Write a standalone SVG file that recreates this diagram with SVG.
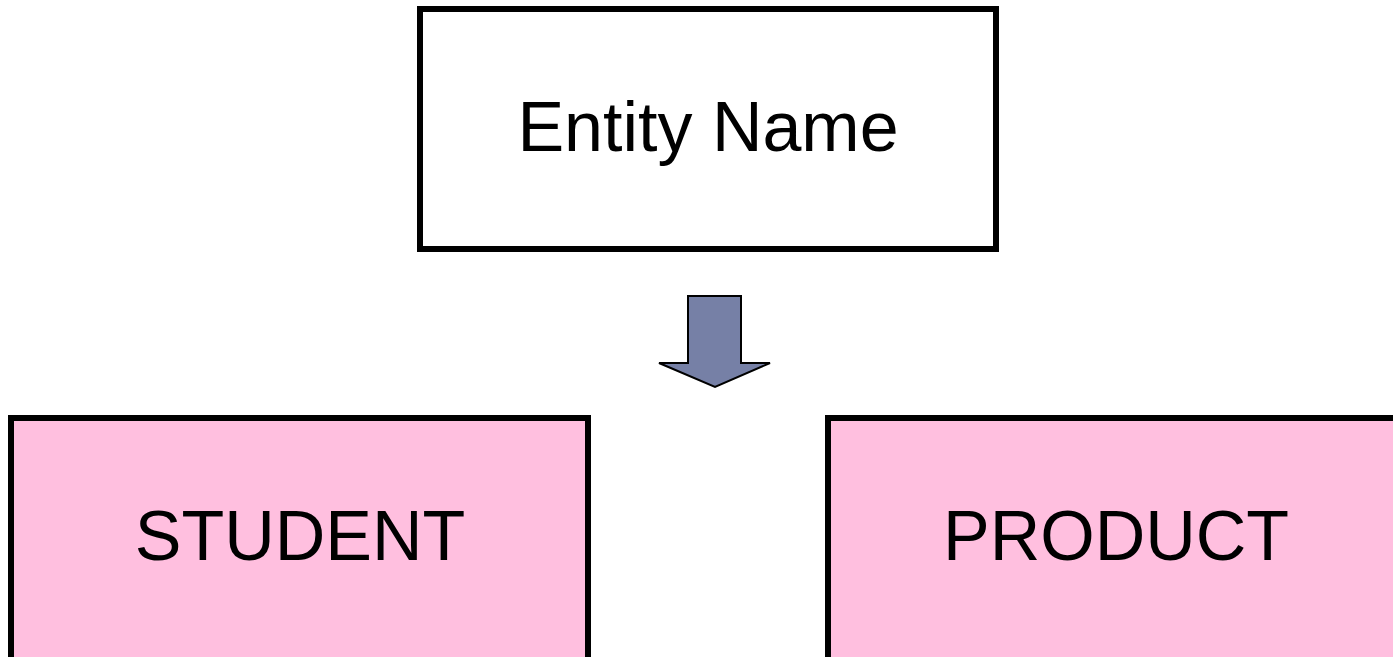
<svg xmlns="http://www.w3.org/2000/svg" width="1393" height="657" viewBox="0 0 1393 657">
  <style>
    .box { stroke: #000; stroke-width: 6; }
    .plain { fill: #fff; }
    .pink { fill: #ffbfdf; }
    .label { font-family: "Liberation Sans", Arial, sans-serif; font-size: 70px; fill: #000; text-anchor: middle; }
  </style>
  <rect width="1393" height="657" fill="#fff"/>
  <g id="entity-name">
    <rect class="box plain" x="420" y="9" width="576" height="240"/>
    <text class="label" x="708" y="151">Entity Name</text>
  </g>
  <g id="connectors">
    <polygon points="688,296 741,296 741,363 770,363 715,387 659,363 688,363" fill="#7680a6" stroke="#000" stroke-width="2" stroke-linejoin="miter"/>
  </g>
  <g id="student">
    <rect class="box pink" x="11" y="418" width="577" height="250"/>
    <text class="label" x="300" y="560">STUDENT</text>
  </g>
  <g id="product">
    <rect class="box pink" x="828" y="418" width="580" height="250"/>
    <text class="label" x="1116" y="560">PRODUCT</text>
  </g>
</svg>
